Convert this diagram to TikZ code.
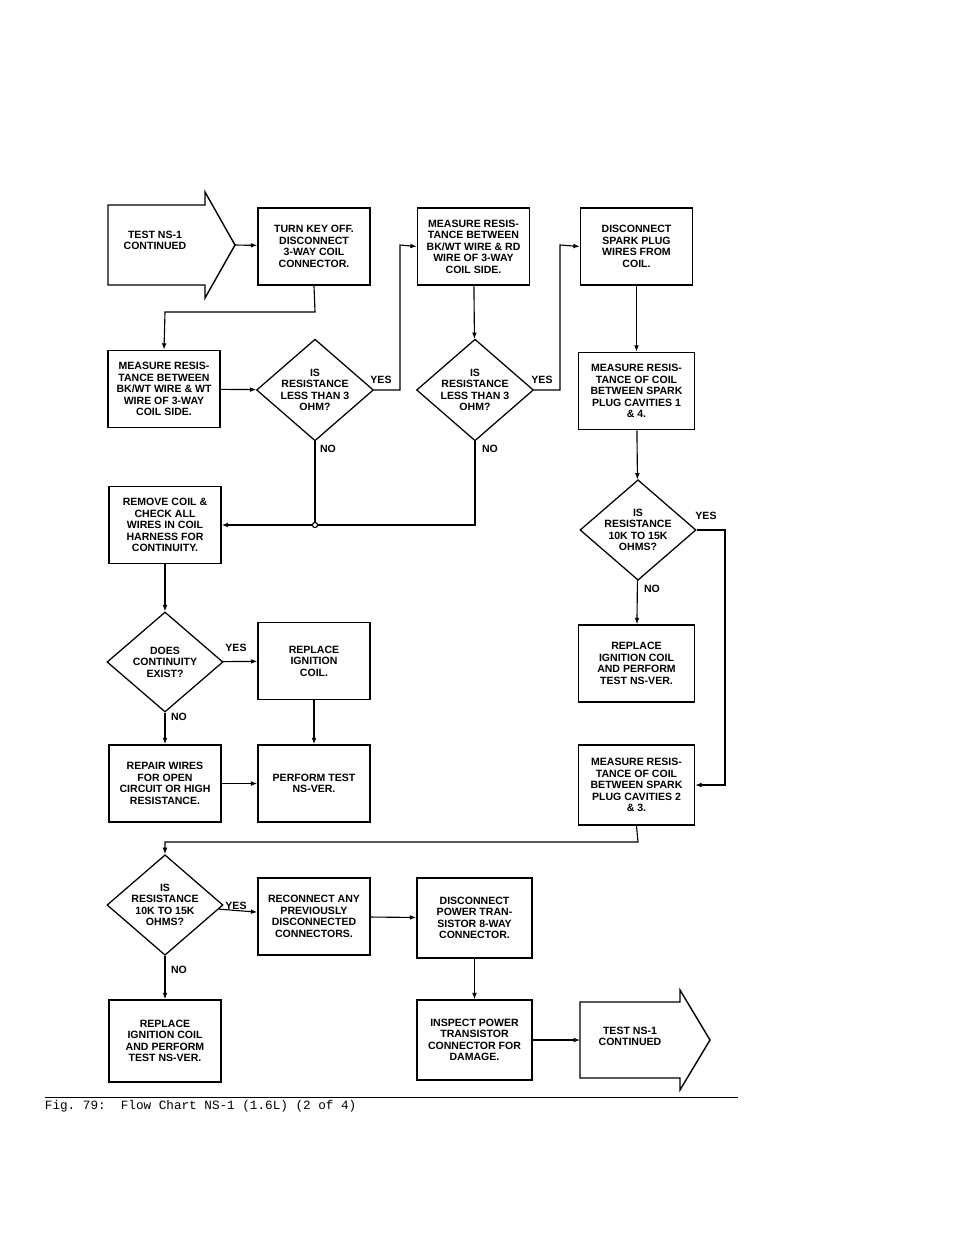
\documentclass[tikz,border=0pt]{standalone}
\usepackage{fontspec}
\setmainfont{Liberation Sans}
\setmonofont{Liberation Mono}
\usetikzlibrary{shapes.geometric}
\tikzset{
  box/.style={rectangle, draw=black, line width=1pt, minimum width=2.8cm, minimum height=1.93cm, align=center, inner sep=1pt, font=\fontsize{7.5}{8.2}\selectfont\bfseries},
  ask/.style={diamond, draw=black, line width=0.9pt, minimum width=2.9cm, minimum height=2.5cm, aspect=1.15, align=center, inner sep=0pt, font=\fontsize{7.5}{8.2}\selectfont\bfseries},
  lbl/.style={font=\fontsize{7.5}{8}\selectfont\bfseries},
  link/.style={line width=0.8pt, -{Latex[length=1.6mm,width=1.2mm]}},
  wire/.style={line width=0.8pt},
}
\usetikzlibrary{arrows.meta}
\begin{document}
\begin{tikzpicture}[x=0.025cm, y=-0.025cm]
  \useasboundingbox (0,0) rectangle (960,1242);

  % entry arrow
  \draw[line width=1pt] (108,205) -- (205,205) -- (205,192) -- (235,245) -- (205,298) -- (205,285) -- (108,285) -- cycle;
  \node (in) [lbl, align=center] at (155,240) {TEST NS-1\\CONTINUED};
  \coordinate (intip) at (235,245);

  % row 1
  \node (key) [box] at (314,246.5) {TURN KEY OFF.\\DISCONNECT\\3-WAY COIL\\CONNECTOR.};
  \node (rd) [box] at (473.5,246.5) {MEASURE RESIS-\\TANCE BETWEEN\\BK/WT WIRE \& RD\\WIRE OF 3-WAY\\COIL SIDE.};
  \node (plug) [box] at (636.5,246.5) {DISCONNECT\\SPARK PLUG\\WIRES FROM\\COIL.};

  % row 2
  \node (wt) [box] at (164,389) {MEASURE RESIS-\\TANCE BETWEEN\\BK/WT WIRE \& WT\\WIRE OF 3-WAY\\COIL SIDE.};
  \node (q1) [ask] at (315,390) {IS\\RESISTANCE\\LESS THAN 3\\OHM?};
  \node (q2) [ask] at (475,390) {IS\\RESISTANCE\\LESS THAN 3\\OHM?};
  \node (c14) [box, minimum width=2.9cm] at (636.5,391) {MEASURE RESIS-\\TANCE OF COIL\\BETWEEN SPARK\\PLUG CAVITIES 1\\\& 4.};

  % row 3
  \node (rem) [box] at (165,525) {REMOVE COIL \&\\CHECK ALL\\WIRES IN COIL\\HARNESS FOR\\CONTINUITY.};
  \node (dot) [circle, draw, line width=0.8pt, inner sep=1.3pt] at (315,525) {};
  \node (q3) [ask] at (638,530) {IS\\RESISTANCE\\10K TO 15K\\OHMS?};

  % row 4
  \node (q4) [ask] at (165,662) {DOES\\CONTINUITY\\EXIST?};
  \node (rep) [box] at (314,661) {REPLACE\\IGNITION\\COIL.};
  \node (rep2) [box, minimum width=2.9cm] at (636.5,663.5) {REPLACE\\IGNITION COIL\\AND PERFORM\\TEST NS-VER.};

  % row 5
  \node (fix) [box] at (165,783.5) {REPAIR WIRES\\FOR OPEN\\CIRCUIT OR HIGH\\RESISTANCE.};
  \node (ver) [box] at (314,783.5) {PERFORM TEST\\NS-VER.};
  \node (c23) [box, minimum width=2.9cm, minimum height=2cm] at (636.5,785) {MEASURE RESIS-\\TANCE OF COIL\\BETWEEN SPARK\\PLUG CAVITIES 2\\\& 3.};

  % row 6
  \node (q5) [ask] at (165,905) {IS\\RESISTANCE\\10K TO 15K\\OHMS?};
  \node (recon) [box] at (314,916.5) {RECONNECT ANY\\PREVIOUSLY\\DISCONNECTED\\CONNECTORS.};
  \node (pwr) [box, minimum width=2.88cm, minimum height=2cm] at (474.5,918) {DISCONNECT\\POWER TRAN-\\SISTOR 8-WAY\\CONNECTOR.};

  % row 7
  \node (rep3) [box, minimum height=2.05cm] at (165,1041) {REPLACE\\IGNITION COIL\\AND PERFORM\\TEST NS-VER.};
  \node (insp) [box, minimum width=2.88cm, minimum height=2cm] at (474.5,1040) {INSPECT POWER\\TRANSISTOR\\CONNECTOR FOR\\DAMAGE.};

  % exit arrow
  \draw[line width=1pt] (580,1002) -- (680,1002) -- (680,990) -- (710,1040) -- (680,1090) -- (680,1078) -- (580,1078) -- cycle;
  \node (out) [lbl, align=center] at (630,1036) {TEST NS-1\\CONTINUED};
  \coordinate (outtail) at (580,1040);

  % connectors
  \draw[link] (intip) -- (key);
  \draw[link] (key.south) -- (315,312) -- (165,312) -- (wt.north);
  \draw[link] (wt) -- (q1);
  \draw[link] (q1.east) -- (400,390) -- (400,245) -- (rd.west);
  \node (y1) [lbl] at (381,380) {YES};
  \draw[link] (rd) -- (q2);
  \draw[link] (q2.east) -- (560,390) -- (560,245) -- (plug.west);
  \node (y2) [lbl] at (542,380) {YES};
  \draw[wire] (q1.south) -- (dot);
  \node (n1) [lbl] at (328,449) {NO};
  \draw[wire] (q2.south) -- (475,525) -- (dot);
  \node (n2) [lbl] at (490,449) {NO};
  \draw[link] (dot) -- (rem);
  \draw[link] (plug) -- (c14);
  \draw[link] (c14) -- (q3);
  \draw[link] (q3.east) -- (725,530) -- (725,785) -- (c23.east);
  \node (y3) [lbl] at (706,516) {YES};
  \draw[link] (q3) -- (rep2);
  \node (n3) [lbl] at (652,589) {NO};
  \draw[link] (rem) -- (q4);
  \draw[link] (q4) -- (rep);
  \node (y4) [lbl] at (236,648) {YES};
  \draw[link] (q4) -- (fix);
  \node (n4) [lbl] at (179,717) {NO};
  \draw[link] (rep) -- (ver);
  \draw[link] (fix) -- (ver);
  \draw[link] (c23.south) -- (638,842) -- (165,842) -- (q5.north);
  \draw[link] (q5) -- (recon);
  \node (y5) [lbl] at (236,906) {YES};
  \draw[link] (q5) -- (rep3);
  \node (n5) [lbl] at (179,970) {NO};
  \draw[link] (recon) -- (pwr);
  \draw[link] (pwr) -- (insp);
  \draw[link] (insp) -- (outtail);

  % caption
  \draw[line width=0.4pt] (45,1097) -- (738,1097);
  \node (cap) [anchor=west, font=\ttfamily\fontsize{9}{10}\selectfont] at (40,1106) {Fig. 79:\ \ Flow Chart NS-1 (1.6L) (2 of 4)};
\end{tikzpicture}
\end{document}
